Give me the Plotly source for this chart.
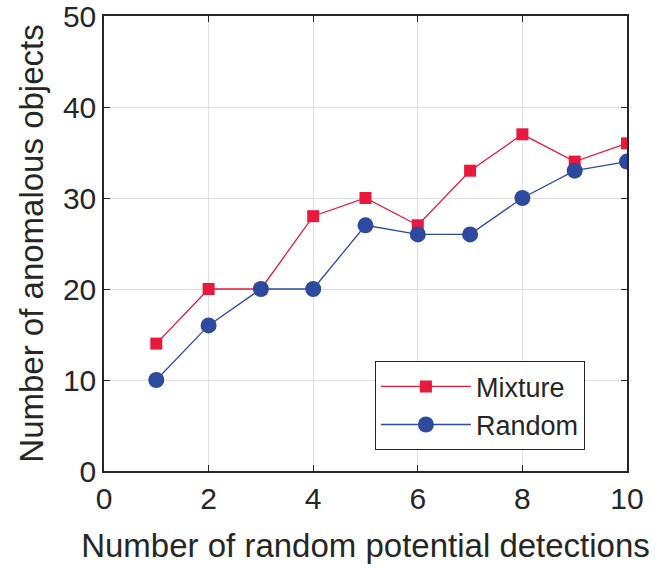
import plotly.graph_objects as go

x_vals = [1, 2, 3, 4, 5, 6, 7, 8, 9, 10]
mixture = [14, 20, 20, 28, 30, 27, 33, 37, 34, 36]
random_vals = [10, 16, 20, 20, 27, 26, 26, 30, 33, 34]
x_ticks = [0, 2, 4, 6, 8, 10]
y_ticks = [0, 10, 20, 30, 40, 50]

RED = "#E8193C"
BLUE = "#2E4A9E"
AX = "#262626"
FONT = "Liberation Sans, Arial, sans-serif"

fig = go.Figure()
fig.add_trace(go.Scatter(x=x_vals, y=mixture, name="Mixture", mode="lines+markers",
                         line=dict(color=RED, width=1.3),
                         marker=dict(symbol="square", size=12, color=RED)))
fig.add_trace(go.Scatter(x=x_vals, y=random_vals, name="Random", mode="lines+markers",
                         line=dict(color=BLUE, width=1.3),
                         marker=dict(symbol="circle", size=16, color=BLUE)))

axis_common = dict(showgrid=True, gridcolor="#E0E0E0", gridwidth=1,
                   showline=True, linecolor=AX, linewidth=1.5, mirror="ticks",
                   ticks="inside", ticklen=6, tickcolor=AX, tickwidth=1,
                   zeroline=False, automargin=False, ticklabeloverflow="allow",
                   tickfont=dict(family=FONT, size=30, color=AX))

fig.update_xaxes(range=[0, 10], tickvals=x_ticks, ticktext=[str(t) for t in x_ticks],
                 title=dict(text="Number of random potential detections",
                            font=dict(family=FONT, size=33, color=AX), standoff=20),
                 **axis_common)
fig.update_yaxes(range=[0, 50], tickvals=y_ticks, ticktext=[str(t) for t in y_ticks],
                 title=dict(text="Number of anomalous objects",
                            font=dict(family=FONT, size=33, color=AX), standoff=9),
                 **axis_common)

fig.update_layout(width=668, height=569,
                  margin=dict(l=104, r=41, t=16, b=98),
                  plot_bgcolor="white", paper_bgcolor="white",
                  legend=dict(x=0.518, y=0.241, xanchor="left", yanchor="top",
                              bgcolor="white", bordercolor=AX, borderwidth=1,
                              font=dict(family=FONT, size=27, color=AX),
                              itemwidth=90))

fig.write_html("out.html", config={"displayModeBar": False},
               post_script="document.body.style.margin='0';")
